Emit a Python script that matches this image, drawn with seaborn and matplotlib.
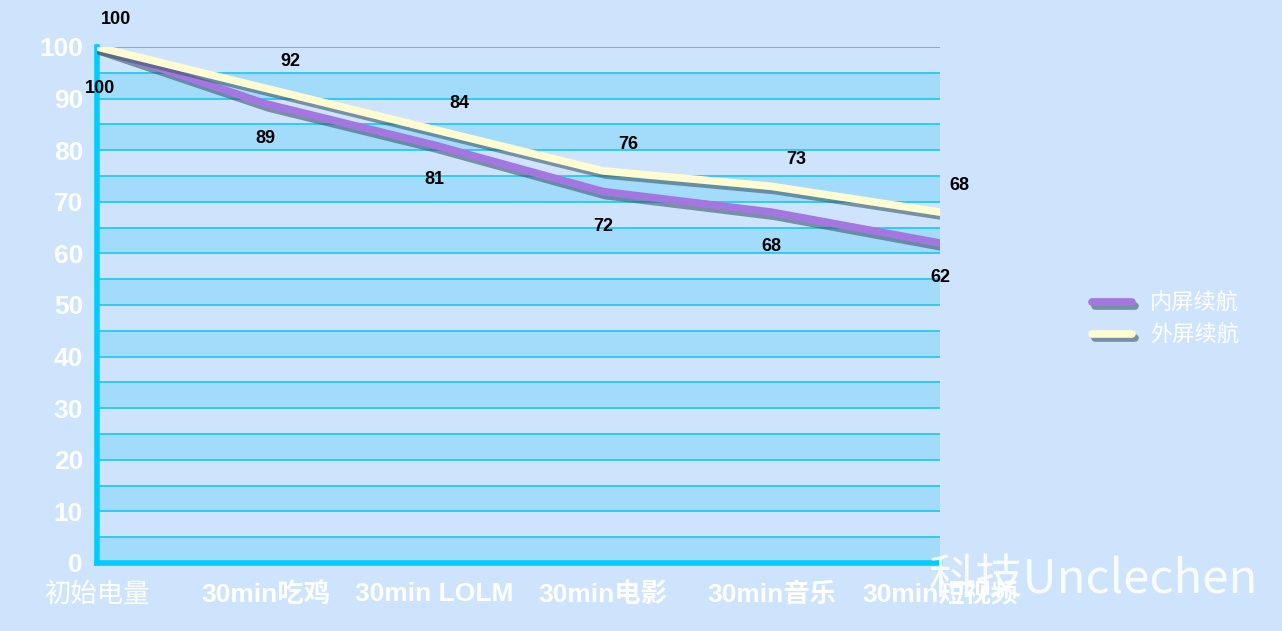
import numpy as np
import pandas as pd
import seaborn as sns
import matplotlib.pyplot as plt
import matplotlib.patheffects as pe
from matplotlib.lines import Line2D

categories = ['初始电量', '30min吃鸡', '30min LOLM', '30min电影', '30min音乐', '30min短视频']
inner = [100, 89, 81, 72, 68, 62]
outer = [100, 92, 84, 76, 73, 68]

sns.set_theme(style='white')
plt.rcParams['font.family'] = ['Liberation Sans', 'Noto Sans CJK SC', 'DejaVu Sans']

bg = '#cde4fc'
fig = plt.figure(figsize=(12.82, 6.31), dpi=100, facecolor=bg)
ax = fig.add_axes([97/1282, 1-563/631, 843/1282, 516/631])
ax.set_facecolor(bg)

# 条纹背景
for y0 in range(0, 100, 10):
    ax.axhspan(y0, y0 + 5, color='#a3dcfb', zorder=0, lw=0)
for y in range(5, 101, 5):
    ax.axhline(y, color='#16c8f4', lw=1.2, zorder=1)

df = pd.DataFrame({'x': list(range(len(categories))) * 2,
                   'y': inner + outer,
                   's': ['内屏续航'] * 6 + ['外屏续航'] * 6})
shadow = [pe.SimpleLineShadow(offset=(2, -3), shadow_color='#3a5a6a', alpha=0.6), pe.Normal()]
sns.lineplot(data=df, x='x', y='y', hue='s', palette=['#a476e0', '#fffcd2'],
             lw=5.5, ax=ax, zorder=3, legend=False)
for ln in ax.lines[-2:]:
    ln.set_path_effects(shadow)
    ln.set_solid_capstyle('round')

for i, v in enumerate(outer):
    ax.annotate(str(v), (i, v), xytext=(14 if i in (0, 5) else 18, 20 if i == 0 else 19),
                textcoords='offset points', ha='center', va='center', fontsize=13, fontweight='bold',
                color='black', zorder=5)
for i, v in enumerate(inner):
    ax.annotate(str(v), (i, v), xytext=(2 if i == 0 else 0, -30 if i == 0 else -25),
                textcoords='offset points', ha='center', va='center', fontsize=13, fontweight='bold',
                color='black', zorder=5)

ax.set_xlim(0, 5)
ax.set_ylim(0, 100)
ax.set_yticks(range(0, 101, 10))
ax.set_xticks(range(6))
ax.set_xticklabels(categories, fontsize=19, color='white', fontweight='bold')
ax.get_xticklabels()[0].set_fontweight('normal')
ax.set_yticklabels([str(v) for v in range(0, 101, 10)], fontsize=19, color='white', fontweight='bold')
ax.tick_params(axis='both', colors='#00ccff', length=8, width=3, direction='out')
for lab in ax.get_xticklabels() + ax.get_yticklabels():
    lab.set_color('white')
ax.tick_params(axis='y', length=8, pad=2)
ax.tick_params(axis='x', pad=6)
for s in ['top', 'right']:
    ax.spines[s].set_visible(False)
for s in ['left', 'bottom']:
    ax.spines[s].set_color('#00ccff')
    ax.spines[s].set_linewidth(4)
ax.set_xlabel('')
ax.set_ylabel('')

# 图例
handles = [Line2D([], [], color='#a476e0', lw=5.5, path_effects=shadow),
           Line2D([], [], color='#fffcd2', lw=5.5, path_effects=shadow)]
fig.legend(handles, ['内屏续航', '外屏续航'], loc='center left', bbox_to_anchor=(1072/1282, 1-320/631),
           frameon=False, fontsize=16, labelcolor='white', handlelength=1.8)

fig.text(1258/1282, 1-580/631, '科技Unclechen', ha='right', va='center', fontsize=34,
         color='white', alpha=0.9, family=['Noto Sans CJK SC', 'DejaVu Sans'])

fig.savefig('out.png', dpi=100, facecolor=bg)
